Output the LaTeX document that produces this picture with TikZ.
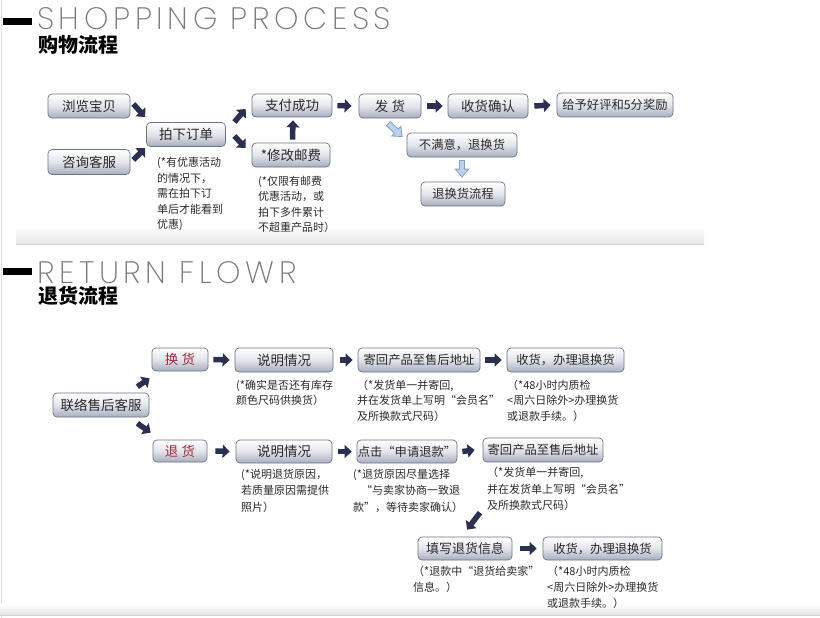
\documentclass[tikz,border=0pt]{standalone}
\usepackage{fontspec}
\setmainfont{Noto Sans CJK SC}
\newfontfamily\thinfont{Poppins ExtraLight}[LetterSpace=15]
\usetikzlibrary{arrows.meta}
\definecolor{navy}{HTML}{2B3050}
\definecolor{btop}{HTML}{FFFFFF}
\definecolor{bmid}{HTML}{E3E5EB}
\definecolor{bbot}{HTML}{A8ADBF}
\definecolor{bord}{HTML}{6E7487}
\definecolor{txt}{HTML}{2A2A2A}
\definecolor{redt}{HTML}{A52A3C}
\definecolor{lbfill}{HTML}{BCD2EA}
\definecolor{lbline}{HTML}{7F9FC8}
\definecolor{headgrey}{HTML}{7A7A7A}
\tikzset{
  btn/.style={draw=bord, line width=0.7pt, rounded corners=4pt,
    top color=btop, bottom color=bbot, middle color=bmid,
    inner sep=0pt, text=txt, font=\fontsize{13.5}{15}\selectfont},
  sbtn/.style={btn, font=\fontsize{12.3}{14}\selectfont},
  note/.style={align=left, anchor=north west, inner sep=0pt, text=txt,
    font=\fontsize{11}{15.5}\selectfont},
  blk/.style={draw=navy, line width=5.5pt, -{Triangle[length=7pt,width=13pt]}},
  lbo/.style={draw=lbline, line width=6.4pt, -{Triangle[length=9pt,width=14.5pt]}},
  lbi/.style={draw=lbfill, line width=4.6pt, -{Triangle[length=6.7pt,width=10.8pt]},
    shorten >=1.4pt, shorten <=0.9pt},
  headen/.style={anchor=base west, inner sep=0pt, text=headgrey, text depth=0pt,
    font=\thinfont\fontsize{31}{31}\selectfont},
  headcn/.style={anchor=west, inner sep=0pt, text=black,
    font=\bfseries\fontsize{20}{20}\selectfont},
}
\begin{document}
\begin{tikzpicture}[x=1pt,y=-1pt]
\useasboundingbox (0,0) rectangle (820,618);
\fill[white] (0,0) rectangle (820,618);
% frame hints
\draw[color=gray!25, line width=1pt] (1.5,0) -- (1.5,618);
\shade[top color=white, bottom color=gray!20] (16,226) rectangle (704,244);
\draw[color=gray!30, line width=0.8pt] (16,244) -- (704,244);
\shade[top color=white, bottom color=gray!22] (0,604) rectangle (820,615);
\draw[color=gray!35, line width=1pt] (0,615.5) -- (820,615.5);

% headings
\fill[black] (3,18) rectangle (32,25);
\node[headen] (h1) at (37,30) {SHOPPING PROCESS};
\node[headcn] (h1c) at (38,44.5) {购物流程};
\fill[black] (3,268) rectangle (32,275);
\node[headen] (h2) at (37,283) {RETURN FLOWR};
\node[headcn] (h2c) at (38,295.5) {退货流程};

% ---------- shopping process ----------
\node[btn, minimum width=82pt, minimum height=24pt] (b1) at (89,106) {浏览宝贝};
\node[btn, minimum width=82pt, minimum height=25pt] (b2) at (89,162) {咨询客服};
\node[btn, minimum width=79pt, minimum height=24pt] (b3) at (186,134.5) {拍下订单};
\node[btn, minimum width=80pt, minimum height=23pt] (b4) at (292,105.5) {支付成功};
\node[btn, minimum width=78pt, minimum height=24pt] (b5) at (291,155) {*修改邮费};
\node[btn, minimum width=62pt, minimum height=24pt] (b6) at (390,106) {发\ 货};
\node[btn, minimum width=80pt, minimum height=24pt] (b7) at (488,106) {收货确认};
\node[sbtn, minimum width=116pt, minimum height=24pt] (b8) at (615,105) {给予好评和5分奖励};
\node[sbtn, minimum width=110pt, minimum height=24pt] (b9) at (462,145) {不满意，退换货};
\node[sbtn, minimum width=84pt, minimum height=24pt] (b10) at (463,194) {退换货流程};

\draw[blk] ([shift={(3,-2)}]b1.east) -- ([shift={(-1,-17.5)}]b3.west);
\draw[blk] ([shift={(3,-2)}]b2.east) -- ([shift={(-1,13.5)}]b3.west);
\draw[blk] ([shift={(8.5,-12.5)}]b3.east) -- ([shift={(-6,3.5)}]b4.west);
\draw[blk] ([shift={(8.5,1.5)}]b3.east) -- ([shift={(-6,-7)}]b5.west);
\draw[blk] ([shift={(1.5,-3)}]b5.north) -- ([shift={(1,3)}]b4.south);
\draw[blk] ([xshift=5pt]b4.east) -- ([xshift=-7pt]b6.west);
\draw[blk] ([xshift=6pt]b6.east) -- ([xshift=-5pt]b7.west);
\draw[blk] ([xshift=6pt]b7.east) -- ([xshift=-6pt]b8.west);
\draw[lbo] ([shift={(-2,5)}]b6.south) -- ([shift={(-4,-8)}]b9.west);
\draw[lbi] ([shift={(-2,5)}]b6.south) -- ([shift={(-4,-8)}]b9.west);
\draw[lbo] ([shift={(0,3)}]b9.south) -- ([shift={(-1,-4)}]b10.north);
\draw[lbi] ([shift={(0,3)}]b9.south) -- ([shift={(-1,-4)}]b10.north);

\node[note] (t1) at (157,157.5) {(*有优惠活动\\的情况下，\\需在拍下订\\单后才能看到\\优惠)};
\node[note] (t2) at (258,176) {(*仅限有邮费\\优惠活动，或\\拍下多件累计\\不超重产品时）};

% ---------- return flow ----------
\node[btn, minimum width=96pt, minimum height=24pt] (c0) at (101,405) {联络售后客服};
\node[btn, minimum width=56pt, minimum height=23pt, text=redt] (c1) at (180,359.5) {换\ 货};
\node[btn, minimum width=98pt, minimum height=24pt] (c2) at (284,360) {说明情况};
\node[sbtn, minimum width=122pt, minimum height=24pt] (c3) at (419,360) {寄回产品至售后地址};
\node[sbtn, minimum width=117pt, minimum height=24pt] (c4) at (565.5,360) {收货，办理退换货};
\node[btn, minimum width=54pt, minimum height=22pt, text=redt] (d1) at (180,451) {退\ 货};
\node[btn, minimum width=96pt, minimum height=23pt] (d2) at (284,451.5) {说明情况};
\node[sbtn, minimum width=100pt, minimum height=23pt] (d3) at (407,451.5) {点击“申请退款”};
\node[sbtn, minimum width=120pt, minimum height=24pt] (d4) at (543,450) {寄回产品至售后地址};
\node[btn, minimum width=94pt, minimum height=23pt, font=\fontsize{13}{15}\selectfont] (d5) at (465,548.5) {填写退货信息};
\node[sbtn, minimum width=119pt, minimum height=23pt] (d6) at (602.5,548.5) {收货，办理退换货};

\draw[blk] ([shift={(-12,-6)}]c0.north east) -- ([shift={(-2,7)}]c1.south west);
\draw[blk] ([shift={(-12,6)}]c0.south east) -- ([shift={(-2,-7)}]d1.north west);
\draw[blk] ([xshift=5pt]c1.east) -- ([xshift=-5pt]c2.west);
\draw[blk] ([xshift=7pt]c2.east) -- ([xshift=-5pt]c3.west);
\draw[blk] ([xshift=5pt]c3.east) -- ([xshift=-5pt]c4.west);
\draw[blk] ([xshift=8pt]d1.east) -- ([xshift=-6pt]d2.west);
\draw[blk] ([xshift=6pt]d2.east) -- ([xshift=-5pt]d3.west);
\draw[blk] ([xshift=5pt]d3.east) -- ([xshift=-8pt]d4.west);
\coordinate (d4s) at ([shift={(15,-24)}]d5.north);
\draw[blk] (d4s) -- ([shift={(2,-7)}]d5.north);
\draw[blk] ([xshift=8pt]d5.east) -- ([xshift=-6pt]d6.west);

\node[note] (n1) at (236,379.5) {(*确实是否还有库存\\颜色尺码供换货）};
\node[note] (n2) at (357,379.5) {（*发货单一并寄回,\\并在发货单上写明“会员名”\\及所换款式尺码）};
\node[note] (n3) at (507,379.5) {（*48小时内质检\\<周六日除外>办理换货\\或退款手续。）};
\node[note, font=\fontsize{11}{16.5}\selectfont] (n4) at (241,469) {(*说明退货原因，\\若质量原因需提供\\照片）};
\node[note, font=\fontsize{11}{16.5}\selectfont] (n5) at (353,469) {(*退货原因尽量选择\\\hspace*{8pt}“与卖家协商一致退\\款”，等待卖家确认）};
\node[note, font=\fontsize{11}{16.5}\selectfont] (n6) at (487,467) {（*发货单一并寄回,\\并在发货单上写明“会员名”\\及所换款式尺码）};
\node[note, font=\fontsize{11}{16}\selectfont] (n7) at (413,566) {（*退款中“退货给卖家”\\信息。）};
\node[note, font=\fontsize{11}{16}\selectfont] (n8) at (547,566) {（*48小时内质检\\<周六日除外>办理换货\\或退款手续。）};
\end{tikzpicture}
\end{document}
